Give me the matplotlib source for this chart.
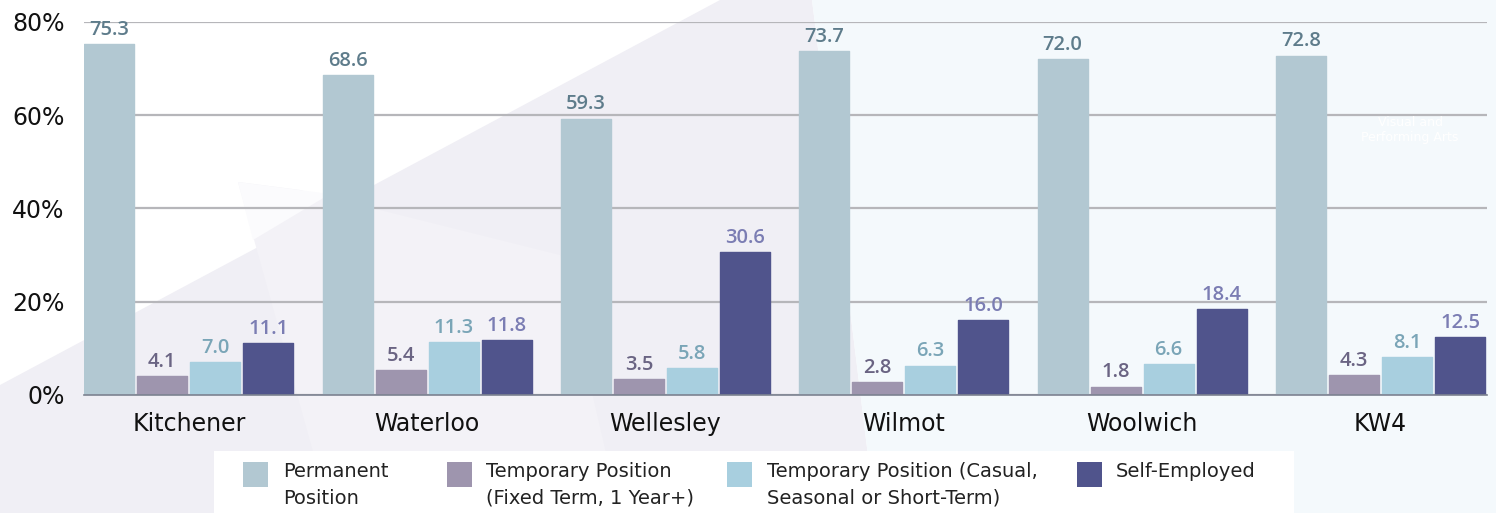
import matplotlib
matplotlib.use("Agg")
import matplotlib.pyplot as plt
import numpy as np
from matplotlib.patches import Polygon, Rectangle

regions = ["Kitchener", "Waterloo", "Wellesley", "Wilmot", "Woolwich", "KW4"]
series_names = ["Permanent\nPosition",
                "Temporary Position\n(Fixed Term, 1 Year+)",
                "Temporary Position (Casual,\nSeasonal or Short-Term)",
                "Self-Employed"]
permanent = [75.3, 68.6, 59.3, 73.7, 72.0, 72.8]
temp_fixed = [4.1, 5.4, 3.5, 2.8, 1.8, 4.3]
temp_casual = [7.0, 11.3, 5.8, 6.3, 6.6, 8.1]
self_employed = [11.1, 11.8, 30.6, 16.0, 18.4, 12.5]
y_ticks = [0, 20, 40, 60, 80]

bar_colors = ["#b2c8d2", "#9e95ae", "#a8cfdf", "#50548c"]
label_colors = ["#5e7c8b", "#6a6483", "#7aa5b7", "#7b7db3"]

W, H = 1496, 513
plt.rcParams["font.family"] = ["DejaVu Sans"]

fig = plt.figure(figsize=(W / 100, H / 100), dpi=100)
fig.patch.set_facecolor("white")


def px(x, y):
    return (x / W, 1 - y / H)


# background shapes (behind the axes)
fig.patches.append(Polygon([px(0, 385), px(720, 0), px(812, 0), px(875, 513), px(0, 513)],
                           closed=True, transform=fig.transFigure, facecolor="#f0eff5",
                           edgecolor="none", zorder=-3))
fig.patches.append(Polygon([px(812, 0), px(W, 0), px(W, H), px(875, H)],
                           closed=True, transform=fig.transFigure, facecolor="#f4f9fc",
                           edgecolor="none", zorder=-3))
fig.patches.append(Polygon([px(238, 182), px(300, 190), px(560, 255), px(620, 513), px(330, 513)],
                           closed=True, transform=fig.transFigure, facecolor="#f3f2f7",
                           edgecolor="none", zorder=-2))
# the part of the lighter wedge that sits over the white area
fig.patches.append(Polygon([px(238, 182), px(330, 194), px(253, 240)],
                           closed=True, transform=fig.transFigure, facecolor="#fbfbfd",
                           edgecolor="none", zorder=-2))

ax = fig.add_axes([84 / W, 1 - 395 / H, (1487 - 84) / W, (395 - 22) / H])
ax.set_facecolor("none")
ax.set_zorder(1)

x = np.arange(len(regions))
step = 0.2224
width = 0.21
all_series = [permanent, temp_fixed, temp_casual, self_employed]
for i, vals in enumerate(all_series):
    xs = x + (i - 1.5) * step
    ax.bar(xs, vals, width=width, color=bar_colors[i], edgecolor=bar_colors[i],
           linewidth=1.0, joinstyle="round", zorder=3, label=series_names[i])
    for xi, v in zip(xs, vals):
        ax.annotate(f"{v:.1f}", (xi, v), xytext=(0, 3), textcoords="offset points",
                    ha="center", va="bottom", fontsize=14.5, fontweight="semibold",
                    family=["Open Sans", "DejaVu Sans"],
                    color=label_colors[i], zorder=4, annotation_clip=False)

ax.set_xlim(-0.44, 5.447)
ax.set_ylim(0, 80)
ax.set_yticks(y_ticks)
ax.set_yticklabels([f"{t}%" for t in y_ticks])
ax.set_xticks(x)
ax.set_xticklabels(regions)
ax.tick_params(axis="both", length=0, labelsize=17, colors="#111111")
ax.tick_params(axis="x", pad=12)
ax.tick_params(axis="y", pad=14)
ax.grid(axis="y", color="#b6b6ba", linewidth=1.6, zorder=1)
for s in ["top", "right", "left"]:
    ax.spines[s].set_visible(False)
ax.spines["bottom"].set_color("#7c8290")
ax.spines["bottom"].set_linewidth(1.2)
ax.spines["bottom"].set_zorder(5)

# faint annotation in the background
fig.text(1410 / W, 1 - 130 / H, "Visual and\nPerforming Arts", ha="center", va="center",
         fontsize=9, color="white", linespacing=1.3)

# legend: white box with swatches and labels
fig.patches.append(Rectangle(px(214, 513), (1294 - 214) / W, 62 / H, transform=fig.transFigure,
                             facecolor="white", edgecolor="none", zorder=-1))
swatch_x = [243, 447, 727, 1077]
text_x = [283, 486, 767, 1116]
for i, name in enumerate(series_names):
    fig.patches.append(Rectangle(px(swatch_x[i], 487), 25 / W, 25 / H,
                                 transform=fig.transFigure, facecolor=bar_colors[i],
                                 edgecolor="none", zorder=2))
    fig.text(text_x[i] / W, 1 - 462 / H, name, ha="left", va="top", fontsize=14,
             color="#222222", linespacing=1.5)

fig.savefig("out.png", dpi=100)
